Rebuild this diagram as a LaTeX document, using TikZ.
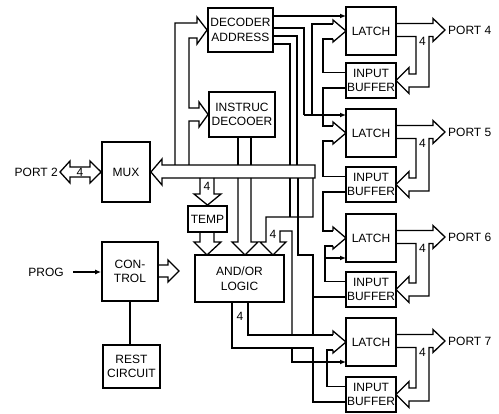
\documentclass[tikz,border=0pt]{standalone}
\usepackage{fontspec}
\setsansfont{Liberation Sans}
\usetikzlibrary{arrows.meta}

\begin{document}
\begin{tikzpicture}[
  x=1pt, y=-1pt,
  box/.style={draw,line width=1.8pt,inner sep=1pt,align=center,
    font=\sffamily\fontsize{12}{14.5}\selectfont},
  lbl/.style={inner sep=0pt,font=\sffamily\fontsize{12}{14.5}\selectfont},
  wire/.style={line width=1.3pt,line join=miter},
  sig/.style={wire,-{Latex[length=6pt,width=5pt]}}
]
\useasboundingbox (0,0) rectangle (499,414);

\node[box,minimum width=65pt,minimum height=44pt] (dec) at (240.5,30) {DECODER\\ADDRESS};
\node[box,minimum width=66pt,minimum height=45pt] (ins) at (242,114.5) {INSTRUC\\DECOOER};
\node[box,minimum width=48pt,minimum height=60pt] (mux) at (126,172) {MUX};
\node[box,minimum width=39pt,minimum height=26pt] (temp) at (207.5,219) {TEMP};
\node[box,minimum width=56pt,minimum height=59pt] (ctrl) at (130,271.5) {CON-\\TROL};
\node[box,minimum width=57pt,minimum height=43pt] (rest) at (131.5,366.5) {REST\\CIRCUIT};
\node[box,minimum width=89pt,minimum height=47pt] (logic) at (239.5,278.5) {AND/OR\\LOGIC};

% latch, input buffer and port bus, four times
\foreach \i/\ly/\by/\p in {1/31/80.5/4,2/133/184.5/5,3/238/289.5/6,4/342/394.5/7}{
  \node[box,minimum width=50pt,minimum height=48pt] (lat\i) at (371,\ly) {LATCH};
  \node[box,minimum width=50pt,minimum height=35pt] (buf\i) at (371,\by) {INPUT\\BUFFER};
  \draw[wire] (396,{\ly-7.5}) -- (433,{\ly-7.5}) -- (433,{\ly-12.5}) -- (445,{\ly-1})
    -- (433,{\ly+10.5}) -- (433,{\ly+5.5}) -- (429,{\ly+5.5}) -- (429,{\by+6.5})
    -- (409,{\by+6.5}) -- (409,{\by+13}) -- (396,\by) -- (409,{\by-13})
    -- (409,{\by-6.5}) -- (416,{\by-6.5}) -- (416,{\ly+5.5}) -- (396,{\ly+5.5});
  \node[lbl,anchor=west] (port\i) at (448,{\ly-1}) {PORT \p};
  \node[lbl] (n\i) at (422.5,{\ly+10}) {4};
  \draw[wire] (333,{\ly-7}) -- (333,{\ly-11}) -- (346,\ly) -- (333,{\ly+11}) -- (333,{\ly+8});
}

% port 2 and main bus
\node[lbl,anchor=east] (p2) at (58,172) {PORT 2};
\draw[wire] (60,172) -- (70,161) -- (70,167) -- (90,167) -- (90,161) -- (mux.west)
  -- (90,183) -- (90,177) -- (70,177) -- (70,183) -- cycle;
\node[lbl] (n0) at (80,172) {4};
\draw[wire] (315,165) -- (162,165) -- (162,159) -- (mux.east) -- (162,185)
  -- (162,178) -- (315,178) -- cycle;

% bus up to the decoders
\draw[wire] (175,165) -- (175,23) -- (197,23) -- (197,17) -- (dec.west) -- (197,44)
  -- (197,38) -- (189,38) -- (189,108) -- (199,108) -- (199,102) -- (ins.west)
  -- (199,127) -- (199,121) -- (189,121) -- (189,165);
\draw[wire] (238,137) -- (238,165);
\draw[wire] (251,137) -- (251,165);

% into temp and logic
\draw[wire] (200,178) -- (200,194) -- (194,194) -- (temp.north) -- (221,194) -- (214,194) -- (214,178);
\node[lbl] (n5) at (207,186) {4};
\draw[wire] (200,232) -- (200,242) -- (194,242) -- (207,255) -- (221,242) -- (214,242) -- (214,232);
\draw[wire] (238,178) -- (238,242) -- (232,242) -- (245,255) -- (258,242) -- (251,242) -- (251,178);
\draw[wire] (313,178) -- (313,217) -- (266,217) -- (266,242) -- (260,242) -- (273,255)
  -- (286,242) -- (280,242) -- (280,231) -- (292,231) -- (292,335);
\node[lbl] (n6) at (273,234) {4};
\draw[wire] (290,178) -- (290,217);
\draw[wire] (298,178) -- (298,255) -- (313,255) -- (313,335);

% decoder outputs
\draw[sig] (273,16) -- (346,16);
\draw[wire] (273,28) -- (304,28) -- (304,115);
\draw[sig] (304,115) -- (346,115);
\draw[wire] (333,24) -- (312,24) -- (312,115);
\draw[wire] (273,36) -- (297,36) -- (297,165);
\draw[wire] (273,44) -- (290,44) -- (290,165);

% latch and buffer loops
\draw[wire] (333,39) -- (323,39) -- (323,72.5) -- (346,72.5);
\draw[wire] (346,88) -- (323,88) -- (323,126) -- (333,126);
\draw[wire] (333,141) -- (323,141) -- (323,176.5) -- (346,176.5);
\draw[wire] (346,192) -- (323,192) -- (323,231) -- (333,231);
\draw[wire] (333,246) -- (325,246) -- (325,281.5) -- (346,281.5);
\draw[sig] (325,258) -- (346,258);
\draw[wire] (346,297) -- (313,297);
\draw[wire] (248,302) -- (248,335) -- (333,335);
\draw[wire] (333,350) -- (327,350) -- (327,386.5) -- (346,386.5);
\draw[wire] (232,302) -- (232,348) -- (313,348) -- (313,402) -- (346,402);
\draw[sig] (292,348) -- (292,362) -- (346,362);
\node[lbl] (n7) at (240,316) {4};

% control
\node[lbl,anchor=east] (prog) at (64,272) {PROG};
\draw[sig] ([xshift=9pt]prog.east) -- (ctrl.west |- prog.east);
\draw[wire] (158,265) -- (168,265) -- (168,260) -- (179,271) -- (168,282) -- (168,277) -- (158,277);
\draw[wire] (ctrl.south) -- (ctrl.south |- rest.north);
\end{tikzpicture}
\end{document}
